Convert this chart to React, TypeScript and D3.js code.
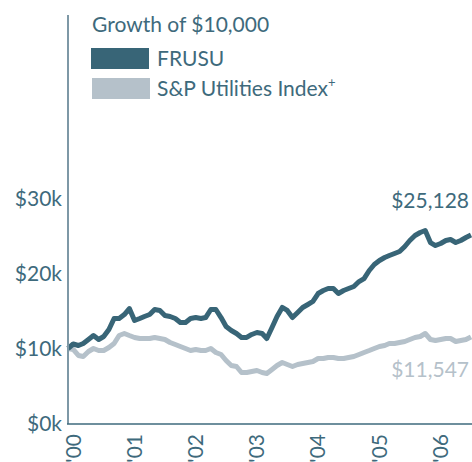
import React from "react";
import * as d3 from "d3";

// Monthly growth of $10,000 (thousands), Dec 1999 – Jul 2006
const fundValues = [
  10.0, 10.6, 10.4, 10.67, 11.2, 11.73, 11.2, 11.6, 12.53, 14.0,
  14.0, 14.53, 15.33, 13.73, 14.0, 14.27, 14.53, 15.2, 15.07, 14.4,
  14.27, 14.0, 13.47, 13.47, 14.0, 14.13, 14.0, 14.13, 15.2, 15.2,
  14.13, 12.93, 12.4, 12.0, 11.47, 11.47, 11.87, 12.13, 12.0, 11.33,
  12.8, 14.27, 15.47, 15.07, 14.13, 14.8, 15.47, 15.87, 16.27, 17.33,
  17.73, 18.0, 18.0, 17.33, 17.73, 18.0, 18.27, 18.93, 19.33, 20.4,
  21.2, 21.73, 22.13, 22.4, 22.67, 22.93, 23.6, 24.4, 25.07, 25.47,
  25.73, 24.13, 23.73, 24.0, 24.4, 24.53, 24.13, 24.4, 24.8, 25.128,
];
const indexValues = [
  10.0, 9.87, 9.07, 8.93, 9.6, 10.0, 9.73, 9.73, 10.13, 10.67,
  11.73, 12.0, 11.73, 11.47, 11.33, 11.33, 11.33, 11.47, 11.33, 11.2,
  10.8, 10.53, 10.27, 10.0, 9.73, 9.87, 9.73, 9.73, 10.0, 9.47,
  9.2, 8.4, 7.73, 7.6, 6.8, 6.8, 6.93, 7.07, 6.8, 6.67,
  7.2, 7.73, 8.13, 7.87, 7.6, 7.87, 8.0, 8.13, 8.27, 8.67,
  8.67, 8.8, 8.8, 8.67, 8.67, 8.8, 8.93, 9.2, 9.47, 9.73,
  10.0, 10.27, 10.4, 10.67, 10.67, 10.8, 10.93, 11.2, 11.47, 11.6,
  12.0, 11.2, 11.07, 11.2, 11.33, 11.33, 10.93, 11.07, 11.2, 11.547,
];
const yTicks = [0, 10, 20, 30];
const yearTicks = [2000, 2001, 2002, 2003, 2004, 2005, 2006];
const seriesNames = ["FRUSU", "S&P Utilities Index"];
const endLabels = ["$25,128", "$11,547"];
const title = "Growth of $10,000";

const DARK = "#386577";
const LIGHT = "#b5c1ca";
const TEXT = "#3e6a7c";
const FONT = "Lato, 'Open Sans', sans-serif";

export default function App() {
  const width = 472;
  const height = 462;
  const startDate = new Date(1999, 11, 1);
  const dates = fundValues.map((_, i) => d3.timeMonth.offset(startDate, i));
  const x = d3
    .scaleTime()
    .domain([dates[0], dates[dates.length - 1]])
    .range([68, 471]);
  const y = d3.scaleLinear().domain([0, 30]).range([423.5, 198.5]);

  const lineGen = (vals: number[]) =>
    d3
      .line<number>()
      .x((_, i) => x(dates[i]))
      .y((v) => y(v))
      .curve(d3.curveLinear)(vals) || "";

  return (
    <svg
      width={width}
      height={height}
      style={{ position: "absolute", left: 0, top: 0, display: "block", background: "#fff" }}
      fontFamily={FONT}
    >
      {/* title & legend */}
      <text x={92} y={32} fontSize={21} fill={TEXT}>
        {title}
      </text>
      <rect x={91} y={48} width={58} height={21} fill={DARK} />
      <text x={157} y={66} fontSize={21} fill={TEXT}>
        {seriesNames[0]}
      </text>
      <rect x={92} y={78} width={58} height={21} fill={LIGHT} />
      <text x={157} y={96} fontSize={21} fill={TEXT}>
        {seriesNames[1]}
        <tspan fontSize={13} dy={-9}>+</tspan>
      </text>

      {/* y axis labels */}
      {yTicks.map((t) => (
        <text
          key={t}
          x={62}
          y={y(t)}
          dy="0.35em"
          textAnchor="end"
          fontSize={21}
          fill={TEXT}
        >
          {`$${t}k`}
        </text>
      ))}

      {/* x axis labels */}
      {yearTicks.map((yr) => {
        const px = x(new Date(yr, 0, 1));
        return (
          <text
            key={yr}
            transform={`translate(${px},434) rotate(-90)`}
            dy="0.35em"
            textAnchor="end"
            fontSize={21}
            fill={TEXT}
          >
            {`'${String(yr).slice(2)}`}
          </text>
        );
      })}

      {/* lines */}
      <path
        d={lineGen(indexValues)}
        fill="none"
        stroke={LIGHT}
        strokeWidth={5}
        strokeLinejoin="round"
      />
      <path
        d={lineGen(fundValues)}
        fill="none"
        stroke={DARK}
        strokeWidth={5}
        strokeLinejoin="round"
      />

      {/* axes */}
      <line x1={68} y1={15} x2={68} y2={424} stroke="#7e98a6" strokeWidth={2} />
      <line x1={67} y1={424} x2={472} y2={424} stroke="#3e6a7c" strokeWidth={1.5} />

      {/* end labels */}
      <text x={469} y={208} textAnchor="end" fontSize={21} fill={TEXT}>
        {endLabels[0]}
      </text>
      <text x={469} y={377} textAnchor="end" fontSize={21} fill={LIGHT}>
        {endLabels[1]}
      </text>
    </svg>
  );
}
